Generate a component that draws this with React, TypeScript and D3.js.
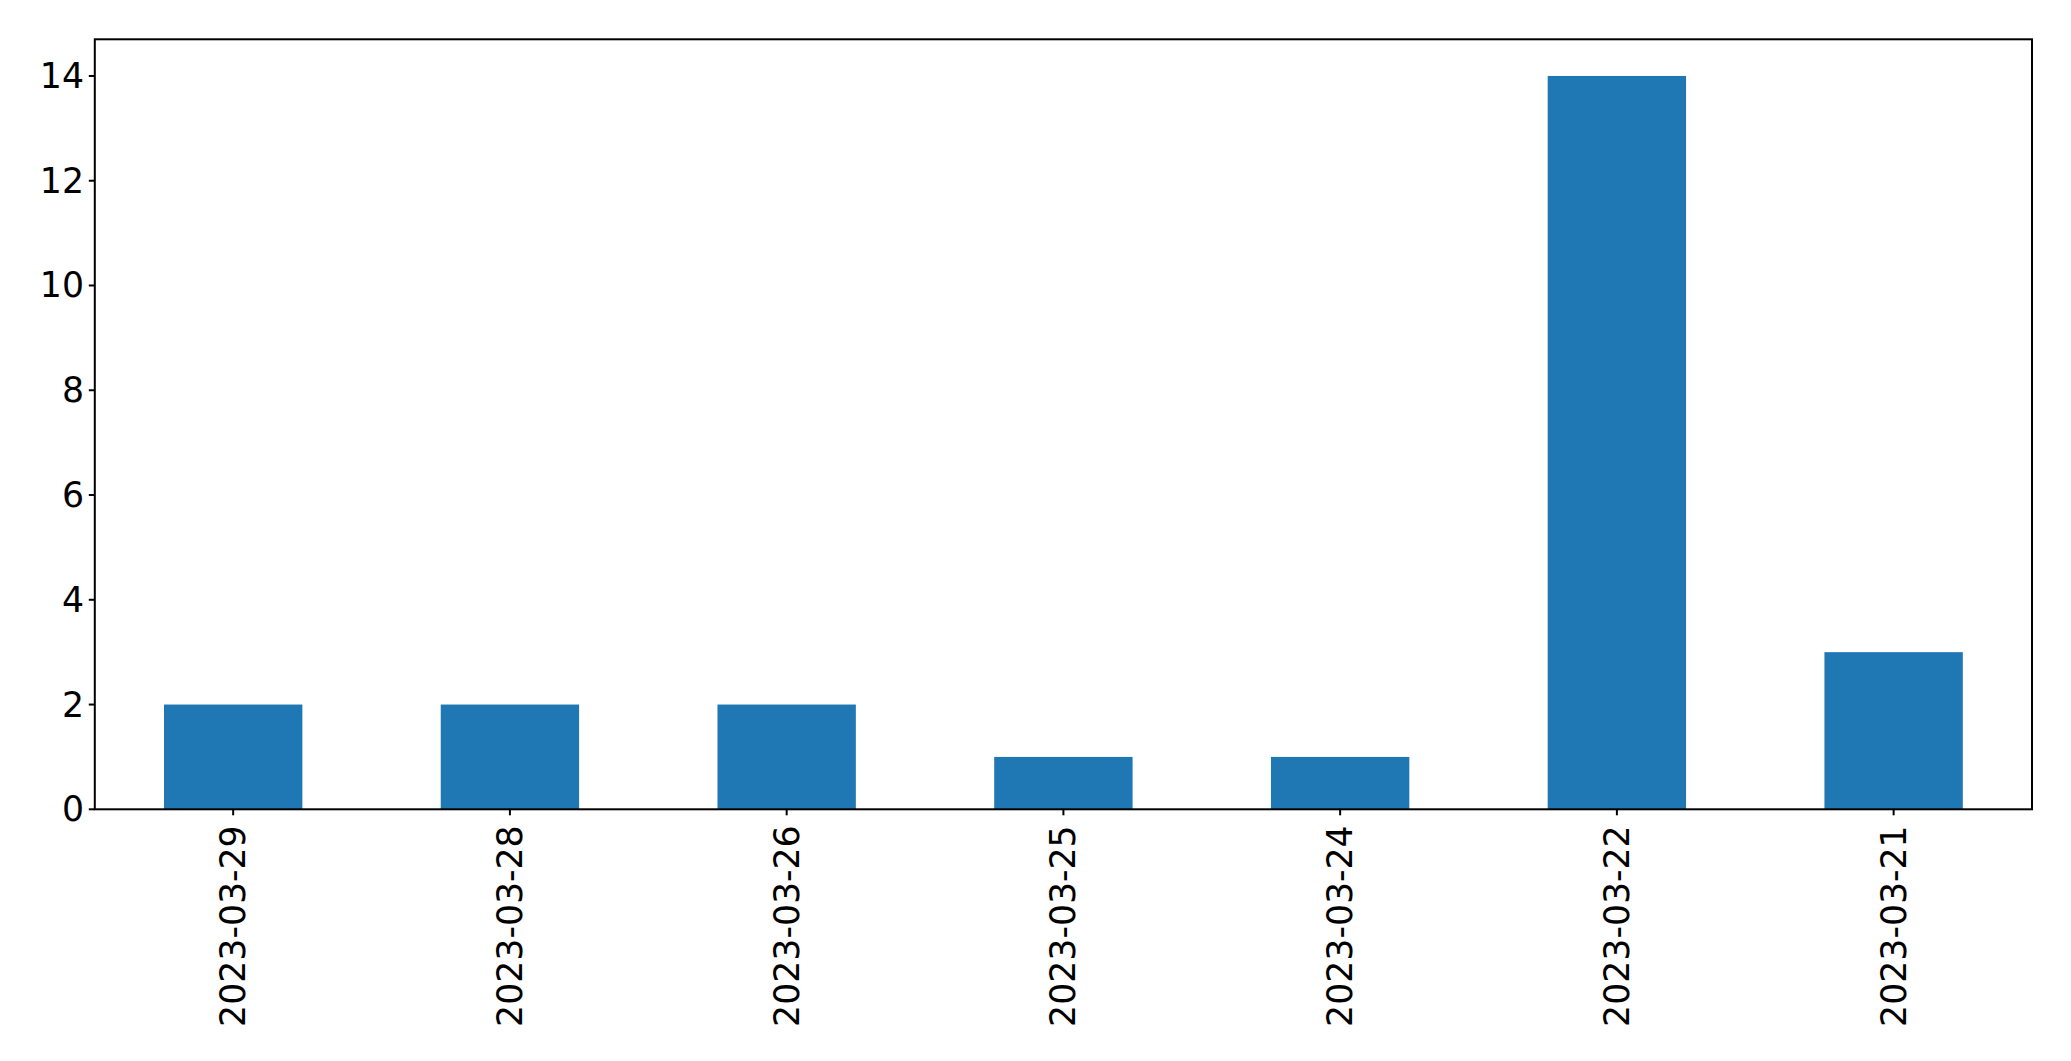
import React from "react";
import * as d3 from "d3";

const categories = ["2023-03-29", "2023-03-28", "2023-03-26", "2023-03-25", "2023-03-24", "2023-03-22", "2023-03-21"];
const values = [2, 2, 2, 1, 1, 14, 3];
const yTicks = [0, 2, 4, 6, 8, 10, 12, 14];

const W = 2071;
const H = 1061;
const left = 94.8;
const right = 2032;
const top = 39.3;
const bottom = 809.3;
const font = "DejaVu Sans, sans-serif";
const fs = 34.7;
const tickLen = 6;

export default function App() {
  const x = d3
    .scaleLinear()
    .domain([-0.5, categories.length - 0.5])
    .range([left, right]);
  const y = d3
    .scaleLinear()
    .domain([0, 14 * 1.05])
    .range([bottom, top]);
  const bw = x(0.25) - x(-0.25);

  return (
    <svg
      width={W}
      height={H}
      style={{ position: "absolute", left: 0, top: 0, background: "#fff" }}
    >
      <rect x={0} y={0} width={W} height={H} fill="#fff" />
      {values.map((v, i) => (
        <rect
          key={i}
          x={x(i) - bw / 2}
          y={y(v)}
          width={bw}
          height={y(0) - y(v)}
          fill="#1f77b4"
        />
      ))}
      <rect
        x={left}
        y={top}
        width={right - left}
        height={bottom - top}
        fill="none"
        stroke="#000"
        strokeWidth={2}
      />
      {yTicks.map((t) => (
        <g key={t}>
          <line x1={left - tickLen} x2={left} y1={y(t)} y2={y(t)} stroke="#000" strokeWidth={2} />
          <text
            x={84}
            y={y(t)}
            textAnchor="end"
            dominantBaseline="central"
            fontFamily={font}
            fontSize={fs}
            fill="#000"
          >
            {t}
          </text>
        </g>
      ))}
      {categories.map((c, i) => (
        <g key={c}>
          <line x1={x(i)} x2={x(i)} y1={bottom} y2={bottom + tickLen} stroke="#000" strokeWidth={2} />
          <text
            transform={`translate(${x(i)},${bottom + 16}) rotate(-90)`}
            textAnchor="end"
            dominantBaseline="central"
            fontFamily={font}
            fontSize={fs}
            fill="#000"
          >
            {c}
          </text>
        </g>
      ))}
    </svg>
  );
}
